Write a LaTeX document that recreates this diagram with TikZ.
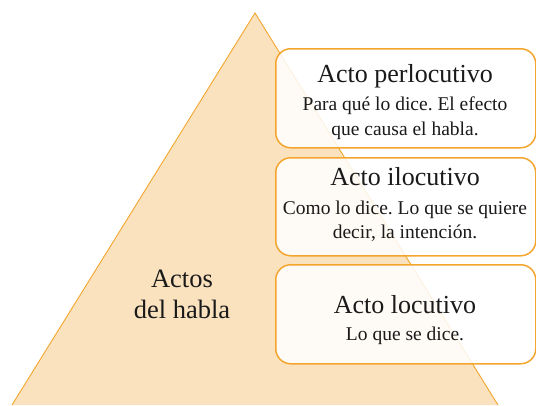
\documentclass[tikz,border=0pt]{standalone}
\usepackage{fontspec}
\setmainfont{Liberation Serif}
\frenchspacing
\definecolor{triFill}{HTML}{FAE2BF}
\definecolor{edgeOr}{HTML}{F4A52E}
\definecolor{ink}{HTML}{1A1A1A}
\begin{document}
\begin{tikzpicture}[x=1pt,y=-1pt,
  actbox/.style={draw=edgeOr,line width=1.5pt,rounded corners=15pt,fill=white,fill opacity=0.85,draw opacity=1,
    minimum width=260pt,anchor=north west,inner sep=0pt},
  titletext/.style={anchor=base,text=ink,font=\fontsize{26}{28}\selectfont,inner sep=0pt},
  subtext/.style={anchor=base,text=ink,font=\fontsize{19.5}{22}\selectfont,inner sep=0pt},
  bigtext/.style={anchor=base,text=ink,font=\fontsize{26.5}{28}\selectfont,inner sep=0pt}]
\useasboundingbox (0,0) rectangle (536,405);
% pyramid
\coordinate (apex) at (255,13);
\coordinate (bl) at (12,405);
\coordinate (br) at (498,405);
\filldraw[fill=triFill,draw=edgeOr,line width=0.9pt] (bl) -- (apex) -- (br);
\node[bigtext] (a1) at (182,287) {Actos};
\node[bigtext] (a2) at (182,318) {del habla};
% boxes
\node[actbox,minimum height=99pt] (b1) at (275,48) {};
\node[actbox,minimum height=98pt] (b2) at (275,157) {};
\node[actbox,minimum height=99pt] (b3) at (275,264) {};
% texts
\node[titletext] (t1) at (405,82) {Acto perlocutivo};
\node[subtext] (s1a) at (405,110) {Para qué lo dice. El efecto};
\node[subtext] (s1b) at (405,135) {que causa el habla.};
\node[titletext] (t2) at (405,185) {Acto ilocutivo};
\node[subtext] (s2a) at (405,214) {Como lo dice. Lo que se quiere};
\node[subtext] (s2b) at (405,238) {decir, la intención.};
\node[titletext] (t3) at (405,313) {Acto locutivo};
\node[subtext] (s3a) at (405,340) {Lo que se dice.};
\end{tikzpicture}
\end{document}
